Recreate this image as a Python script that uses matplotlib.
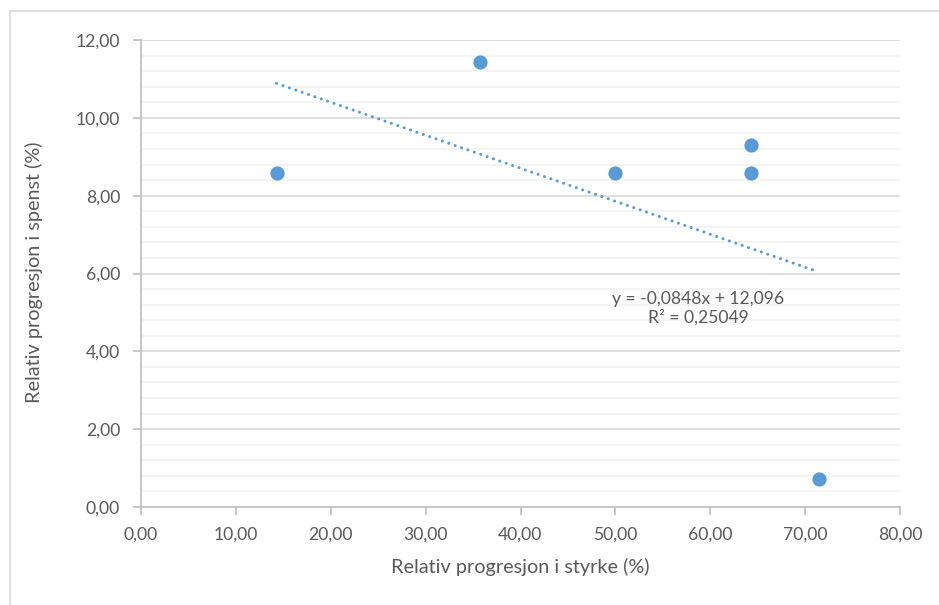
import numpy as np
import matplotlib
matplotlib.use("Agg")
import matplotlib.pyplot as plt
from matplotlib.lines import Line2D
from matplotlib.ticker import FuncFormatter, MultipleLocator

# data
styrke = [14.29, 35.71, 50.00, 64.29, 64.29, 71.43]
spenst = [8.57, 11.43, 8.57, 9.29, 8.57, 0.71]
eq_text = "y = -0,0848x + 12,096\nR² = 0,25049"

blue = "#5B9BD5"
txt = "#595959"
plt.rcParams["font.family"] = ["Lato", "DejaVu Sans"]

fig = plt.figure(figsize=(9.39, 6.05), dpi=100)
ax = fig.add_axes([141 / 939, (605 - 507) / 605, (900 - 141) / 939, (507 - 40) / 605])

# linear trendline
k, m = np.polyfit(styrke, spenst, 1)
xs = np.array([min(styrke), max(styrke)])
ax.plot(xs, k * xs + m, ls=(0, (0.01, 2.2)), lw=2.2, color=blue,
        dash_capstyle="round", zorder=3)
ax.scatter(styrke, spenst, s=105, color=blue, zorder=4, linewidths=0)

ax.text(58.7, 5.1, eq_text, ha="center", va="center", fontsize=12.6,
        color=txt, linespacing=1.2)

ax.set_xlim(0, 80)
ax.set_ylim(0, 12)
ax.xaxis.set_major_locator(MultipleLocator(10))
ax.yaxis.set_major_locator(MultipleLocator(2))
ax.yaxis.set_minor_locator(MultipleLocator(0.4))
fmt = FuncFormatter(lambda v, p: f"{v:.2f}".replace(".", ","))
ax.xaxis.set_major_formatter(fmt)
ax.yaxis.set_major_formatter(fmt)

ax.grid(axis="y", which="major", color="#D9D9D9", lw=1.2)
ax.grid(axis="y", which="minor", color="#F2F2F2", lw=1.2)
ax.set_axisbelow(True)

for s in ["top", "right"]:
    ax.spines[s].set_visible(False)
for s in ["left", "bottom"]:
    ax.spines[s].set_color("#BFBFBF")
    ax.spines[s].set_linewidth(1.2)

ax.tick_params(axis="both", which="major", color="#BFBFBF", width=1.2,
               length=6, labelsize=12.6, labelcolor=txt)
ax.tick_params(axis="y", which="minor", length=0)
ax.tick_params(axis="x", pad=8)
ax.tick_params(axis="y", pad=9)

ax.set_xlabel("Relativ progresjon i styrke (%)", fontsize=14.3, color=txt, va="center")
ax.set_ylabel("Relativ progresjon i spenst (%)", fontsize=14.3, color=txt, va="center")
ax.xaxis.set_label_coords(0.5 - 0.5 * (141 + 900 - 2 * 520) / 759, -0.128)
ax.yaxis.set_label_coords(-0.141, (507 - 272) / 467)

# chart area border (left and top edges visible)
fig.add_artist(Line2D([10 / 939, 10 / 939], [0, 1 - 11 / 605], color="#D9D9D9", lw=1.2))
fig.add_artist(Line2D([10 / 939, 1], [1 - 11 / 605, 1 - 11 / 605], color="#D9D9D9", lw=1.2))

fig.savefig("out.png", dpi=100)
